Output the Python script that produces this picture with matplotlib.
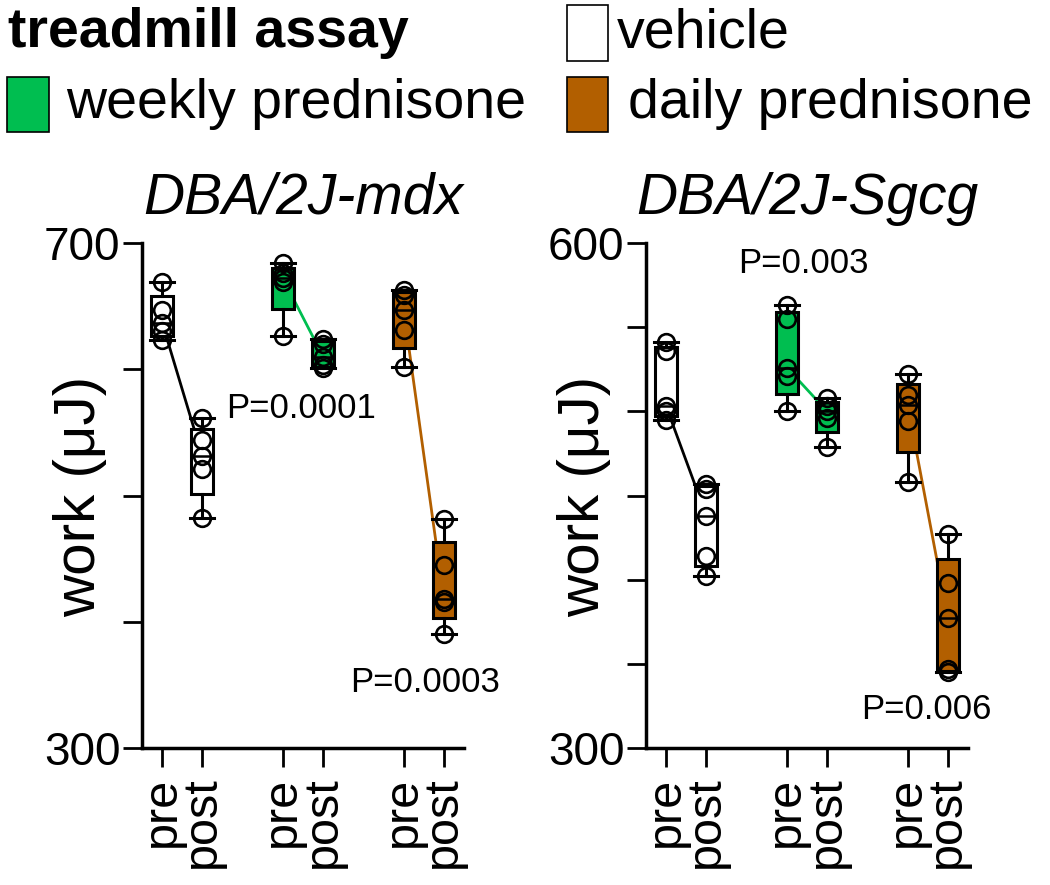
import numpy as np
import matplotlib.pyplot as plt
from matplotlib.patches import Rectangle

plt.rcParams['font.family'] = ['Liberation Sans', 'DejaVu Sans']

# DATA
positions = [1, 2, 4, 5, 7, 8]
tick_labels = ['pre', 'post', 'pre', 'post', 'pre', 'post']
group_names = ['vehicle', 'weekly prednisone', 'daily prednisone']
fill_colors = ['white', '#00BE50', '#B25F00']
link_colors = ['black', '#00BE50', '#B25F00']

# DBA/2J-mdx, work (uJ)
mdx_vehicle_pre = [669, 647, 637, 630, 623]
mdx_vehicle_post = [561, 544, 531, 521, 482]
mdx_weekly_pre = [684, 676, 672, 669, 626]
mdx_weekly_post = [624, 620, 610, 603, 601]
mdx_daily_pre = [663, 659, 647, 631, 602]
mdx_daily_post = [481, 445, 418, 416, 390]

# DBA/2J-Sgcg, work (uJ)
sgcg_vehicle_pre = [541, 536, 503, 500, 495]
sgcg_vehicle_post = [457, 454, 438, 414, 402]
sgcg_weekly_pre = [563, 555, 526, 521, 500]
sgcg_weekly_post = [508, 503, 500, 496, 479]
sgcg_daily_pre = [522, 510, 504, 494, 458]
sgcg_daily_post = [427, 398, 377, 347, 345]

mdx_pvalues = ['P=0.0001', 'P=0.0003']
sgcg_pvalues = ['P=0.003', 'P=0.006']


def box_stats(vals):
    v = np.array(vals, dtype=float)
    q1, med, q3 = np.percentile(v, [25, 50, 75], method='weibull')
    return dict(med=med, q1=q1, q3=q3, whislo=v.min(), whishi=v.max(), fliers=[])


def draw_panel(ax, groups, title, yticks, ylim, pvals, ppos):
    stats = [box_stats(g) for g in groups]
    bp = ax.bxp(stats, positions=positions, widths=0.55, capwidths=0.6,
                patch_artist=True, showfliers=False, zorder=2,
                boxprops=dict(edgecolor='black', linewidth=2.2),
                whiskerprops=dict(color='black', linewidth=2.2),
                capprops=dict(color='black', linewidth=2.2),
                medianprops=dict(color='black', linewidth=1.8))
    for i, box in enumerate(bp['boxes']):
        box.set_facecolor(fill_colors[i // 2])

    # pre -> post median links
    for k in range(3):
        ax.plot([positions[2 * k], positions[2 * k + 1]],
                [stats[2 * k]['med'], stats[2 * k + 1]['med']],
                color=link_colors[k], lw=2, zorder=1.5)

    for pos, vals in zip(positions, groups):
        ax.plot([pos] * len(vals), vals, 'o', mfc='none', mec='black',
                ms=12, mew=1.9, zorder=4)

    ax.set_xlim(0.5, 8.5)
    ax.set_ylim(*ylim)
    ax.set_xticks(positions)
    ax.set_xticklabels(tick_labels, rotation=90, fontsize=35)
    ax.set_yticks(yticks)
    ax.set_yticklabels([str(yticks[0])] + [''] * (len(yticks) - 2) + [str(yticks[-1])],
                       fontsize=33)
    ax.tick_params(axis='y', length=13.5, width=2, pad=2)
    ax.tick_params(axis='x', length=13.5, width=2, pad=7)
    for side in ['top', 'right']:
        ax.spines[side].set_visible(False)
    for side in ['left', 'bottom']:
        ax.spines[side].set_linewidth(2.5)
    ax.set_title(title, fontsize=41, style='italic', pad=21)

    for txt, (x, y) in zip(pvals, ppos):
        ax.text(x, y, txt, fontsize=25, ha='left', va='baseline')


fig = plt.figure(figsize=(10.5, 8.85), dpi=100)
ax1 = fig.add_axes([142 / 1050, 137 / 885, 322 / 1050, 505 / 885])
ax2 = fig.add_axes([646 / 1050, 137 / 885, 322 / 1050, 505 / 885])

draw_panel(ax1,
           [mdx_vehicle_pre, mdx_vehicle_post, mdx_weekly_pre,
            mdx_weekly_post, mdx_daily_pre, mdx_daily_post],
           'DBA/2J-mdx', [300, 400, 500, 600, 700], (300, 700),
           mdx_pvalues, [(2.6, 561), (5.67, 344)])
draw_panel(ax2,
           [sgcg_vehicle_pre, sgcg_vehicle_post, sgcg_weekly_pre,
            sgcg_weekly_post, sgcg_daily_pre, sgcg_daily_post],
           'DBA/2J-Sgcg', [300, 350, 400, 450, 500, 550, 600], (300, 600),
           sgcg_pvalues, [(2.8, 582), (5.85, 317)])

fig.text(80 / 1050, 1 - 496 / 885, 'work (μJ)', rotation=90, ha='center',
         va='center', fontsize=42)
fig.text(584 / 1050, 1 - 496 / 885, 'work (μJ)', rotation=90, ha='center',
         va='center', fontsize=42)

# legend header
def fig_rect(x, y, w, h, color):
    fig.add_artist(Rectangle((x / 1050, 1 - (y + h) / 885), w / 1050, h / 885,
                             transform=fig.transFigure, facecolor=color,
                             edgecolor='black', linewidth=1.2))

fig.text(8 / 1050, 1 - 47 / 885, 'treadmill assay', fontsize=40,
         fontweight='bold', va='baseline')
fig_rect(567, 5, 41, 56, fill_colors[0])
fig.text(617 / 1050, 1 - 47 / 885, group_names[0], fontsize=40, va='baseline')
fig_rect(7, 77, 42, 55, fill_colors[1])
fig.text(66 / 1050, 1 - 118 / 885, group_names[1], fontsize=40, va='baseline')
fig_rect(567, 77, 41, 55, fill_colors[2])
fig.text(628 / 1050, 1 - 118 / 885, group_names[2], fontsize=40, va='baseline')

fig.savefig('out.png', dpi=100)
